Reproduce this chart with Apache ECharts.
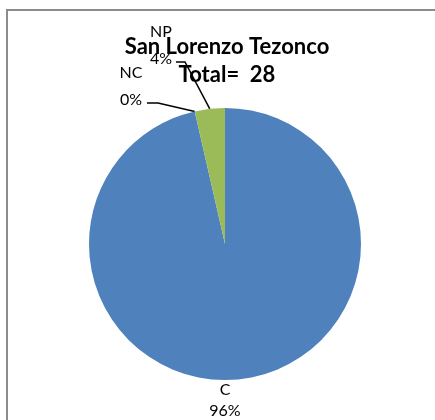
<!DOCTYPE html>
<html>
<head>
<meta charset="utf-8">
<script src="https://cdn.jsdelivr.net/npm/echarts@6/dist/echarts.min.js"></script>
<style>
  html, body { margin: 0; padding: 0; background: #fff; }
  #chart { width: 435px; height: 420px; }
</style>
</head>
<body>
<div id="chart"></div>
<script>
const categories = ['C', 'NC', 'NP'];
const counts = [27, 0, 1];
const colors = ['#4F81BD', '#C0504D', '#9BBB59'];
const total = 28;

// where each label sits (x, y of text centre) - mimics the Excel placement
const labelSpots = {
  C: { x: 225, y: 400, gap: 21, line: null },
  NC: { x: 131, y: 86, gap: 27, line: [[158, 103], [147, 103]] },
  NP: { x: 161, y: 45, gap: 27, line: [[185, 62], [176, 62]] }
};

const chart = echarts.init(document.getElementById('chart'));

chart.setOption({
  animation: false,
  title: {
    text: 'San Lorenzo Tezonco',
    subtext: 'Total=  ' + total,
    left: 222,
    top: 31,
    textAlign: 'center',
    itemGap: 6,
    textStyle: { fontFamily: 'Lato', fontWeight: 'bold', fontSize: 22, color: '#000' },
    subtextStyle: { fontFamily: 'Lato', fontWeight: 'bold', fontSize: 22, color: '#000' }
  },
  graphic: [{
    type: 'rect',
    shape: { x: 7, y: 10, width: 500, height: 500 },
    style: { fill: 'none', stroke: '#8c8c8c', lineWidth: 2 },
    silent: true
  }],
  series: [{
    type: 'pie',
    center: [225, 244],
    radius: 136,
    startAngle: 90,
    clockwise: true,
    data: categories.map((c, i) => ({
      name: c,
      value: counts[i],
      itemStyle: { color: colors[i] },
      label: { lineHeight: labelSpots[c].gap },
      labelLine: { show: labelSpots[c].line !== null }
    })),
    label: {
      show: true,
      formatter: p => p.name + '\n' + Math.round(p.percent) + '%',
      fontFamily: 'Lato',
      fontSize: 16,
      color: '#000',
      align: 'center'
    },
    labelLine: { show: true, lineStyle: { color: '#000', width: 1.5 }, length: 10, length2: 10 },
    labelLayout: function (params) {
      const name = categories[params.dataIndex];
      const spot = labelSpots[name];
      const out = { x: spot.x, y: spot.y, align: 'center', verticalAlign: 'middle' };
      if (spot.line && params.labelLinePoints) {
        out.labelLinePoints = [params.labelLinePoints[0]].concat(spot.line);
      }
      return out;
    },
    emphasis: { disabled: true }
  }]
});
</script>
</body>
</html>
